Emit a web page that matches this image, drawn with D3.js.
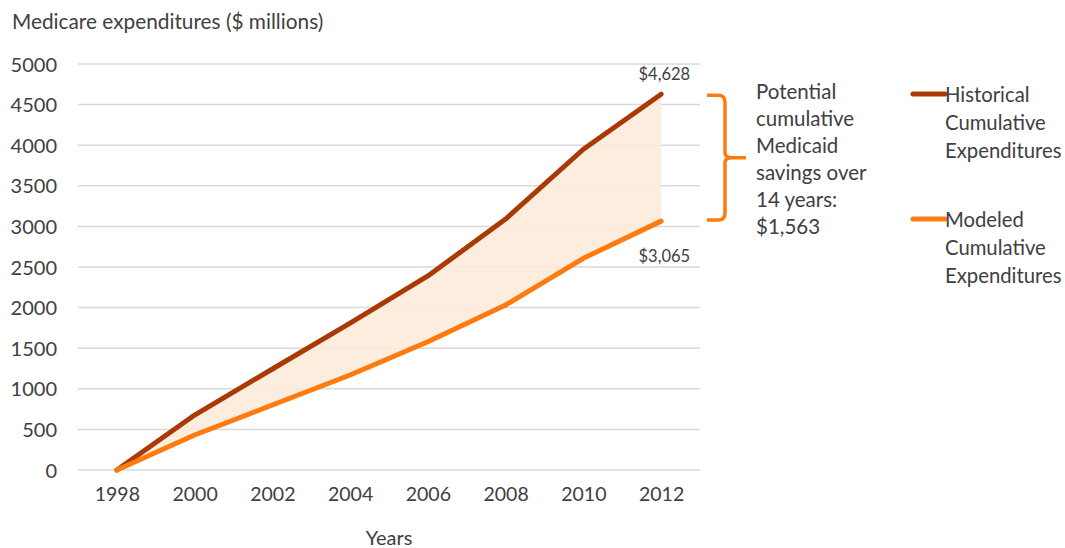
<!DOCTYPE html>
<html><head><meta charset="utf-8">
<script src="https://cdn.jsdelivr.net/npm/d3@7"></script>
<style>body{margin:0;background:#fff}svg{display:block}text{font-family:Lato,"Open Sans",sans-serif;fill:#404040}</style>
</head><body><svg id="c" width="1065" height="548"></svg>
<script>
const years = ["1998","2000","2002","2004","2006","2008","2010","2012"];
const historical = [0, 677, 1244, 1810, 2390, 3090, 3950, 4628];
const modeled = [0, 431, 800, 1170, 1580, 2032, 2607, 3065];
const yTicks = [0,500,1000,1500,2000,2500,3000,3500,4000,4500,5000];
const seriesNames = [["Historical","Cumulative","Expenditures"],["Modeled","Cumulative","Expenditures"]];
const endLabels = ["$4,628","$3,065"];
const noteLines = ["Potential","cumulative","Medicaid","savings over","14 years:","$1,563"];
const colors = ["#a93a06","#ff7b0f"];

const svg = d3.select("#c");
const x = d3.scalePoint().domain(years).range([78,700]).padding(0.5);
const y = d3.scaleLinear().domain([0,5000]).range([470,64]);

// gridlines
svg.append("g").selectAll("line").data(yTicks).join("line")
  .attr("x1",78).attr("x2",700).attr("y1",d=>y(d)).attr("y2",d=>y(d))
  .attr("stroke","#d9d9d9").attr("stroke-width",1.5);

// y axis labels
const ya = svg.append("g").attr("transform","translate(57,0)")
  .call(d3.axisLeft(y).tickValues(yTicks).tickSize(0).tickPadding(0).tickFormat(d3.format("d")));
ya.select(".domain").remove();
ya.selectAll("text").style("font-size","20px").attr("fill","#404040").attr("dy","0.35em");

// x axis labels
const xa = svg.append("g").attr("transform","translate(0,487)")
  .call(d3.axisBottom(x).tickSize(0).tickPadding(0));
xa.select(".domain").remove();
xa.selectAll("text").style("font-size","19.5px").attr("fill","#404040").attr("dy","0.71em");

// area between
const idx = d3.range(years.length);
svg.append("path").datum(idx)
  .attr("d", d3.area().x(i=>x(years[i])).y0(i=>y(modeled[i])).y1(i=>y(historical[i])))
  .attr("fill","#fdebdb").attr("opacity",0.9);

// lines
[historical, modeled].forEach((s,k)=>{
  svg.append("path").datum(s)
    .attr("d", d3.line().x((d,i)=>x(years[i])).y(d=>y(d)))
    .attr("fill","none").attr("stroke",colors[k]).attr("stroke-width",5)
    .attr("stroke-linecap","round").attr("stroke-linejoin","round");
});

// end labels
const last = years.length-1;
svg.append("text").attr("x",x(years[last])+29).attr("y",y(historical[last])-20)
  .attr("text-anchor","end").attr("dy","0.35em").style("font-size","16.5px").text(endLabels[0]);
svg.append("text").attr("x",x(years[last])+29).attr("y",y(modeled[last])+35)
  .attr("text-anchor","end").attr("dy","0.35em").style("font-size","16.5px").text(endLabels[1]);

// brace
const bTop = y(historical[last]) + 1, bBot = y(modeled[last]) - 1, bMid = (bTop+bBot)/2;
svg.append("path")
  .attr("d",`M707,${bTop} L718,${bTop} Q725,${bTop} 725,${bTop+7} L725,${bMid-5} Q725,${bMid} 732,${bMid} L746,${bMid} M732,${bMid} Q725,${bMid} 725,${bMid+5} L725,${bBot-7} Q725,${bBot} 718,${bBot} L707,${bBot}`)
  .attr("fill","none").attr("stroke","#ff7b0f").attr("stroke-width",3.5);

// note text
svg.append("g").selectAll("text").data(noteLines).join("text")
  .attr("x",756).attr("y",(d,i)=>92+i*27).attr("dy","0.35em").style("font-size","20.5px").text(d=>d);

// legend
seriesNames.forEach((nm,k)=>{
  const ly = k===0 ? 94 : 219;
  svg.append("line").attr("x1",913).attr("x2",945).attr("y1",ly).attr("y2",ly)
    .attr("stroke",colors[k]).attr("stroke-width",5).attr("stroke-linecap","round");
  svg.append("g").selectAll("text").data(nm).join("text")
    .attr("x",945).attr("y",(d,i)=>ly+1+i*28).attr("dy","0.35em").style("font-size","20.3px").text(d=>d);
});

// titles
svg.append("text").attr("x",12).attr("y",22).attr("dy","0.35em").style("font-size","20.8px").text("Medicare expenditures ($ millions)");
svg.append("text").attr("x",389).attr("y",545).attr("text-anchor","middle").style("font-size","20px").text("Years");
</script></body></html>
